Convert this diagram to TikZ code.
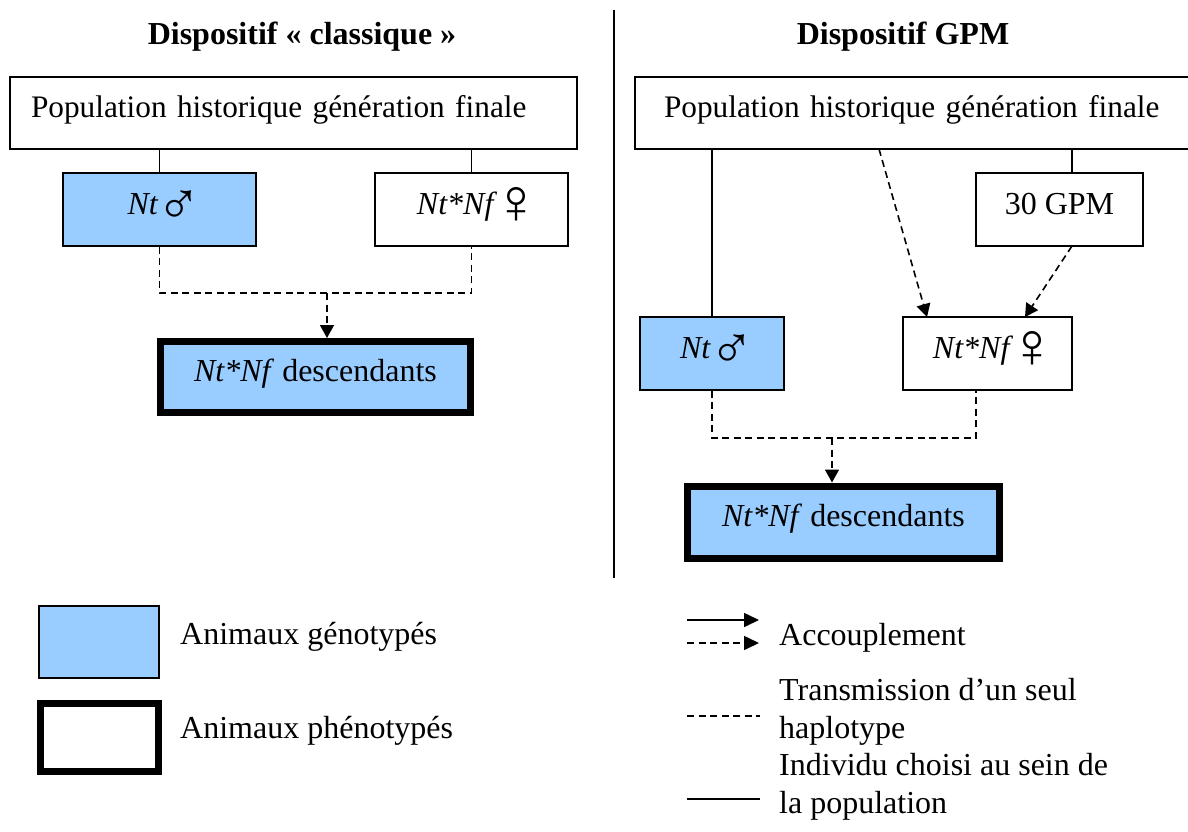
\documentclass[tikz,border=0pt]{standalone}
\usepackage{fontspec}
\setmainfont{Liberation Serif}
\newcommand\mymale{\hspace{9pt}\makebox[24pt]{\raisebox{-10pt}{\fontsize{60}{60}\selectfont ♂}}}
\newcommand\myfemale{\hspace{9pt}\makebox[20pt]{\raisebox{-9.5pt}{\fontsize{64}{64}\selectfont ♀}}}
\usetikzlibrary{arrows.meta}
\definecolor{genoblue}{HTML}{99CCFF}
\begin{document}
\begin{tikzpicture}[x=1pt,y=-1pt,
  every node/.style={font=\fontsize{32}{38}\selectfont, inner sep=0pt},
  titletext/.style={font=\fontsize{32}{38}\selectfont\bfseries, anchor=base},
  box/.style={draw, line width=1.5pt, text height=16pt, text depth=7pt},
  poptext/.style={font=\fontsize{31.3}{38}\selectfont, text width=525pt, align=left},
  geno/.style={fill=genoblue},
  pheno/.style={line width=7pt},
  solidlink/.style={line width=1.6pt},
  dashlink/.style={line width=1.6pt, dash pattern=on 7pt off 4.5pt},
  arr/.style={-{Triangle[length=13pt,width=14pt]}},
  legarr/.style={-{Triangle[length=15pt,width=14pt]}},
  legtext/.style={anchor=base west, align=left}]
\useasboundingbox (0,0) rectangle (1188,832);

% titles and divider
\node[titletext] (titleL) at (302,45) {Dispositif « classique »};
\node[titletext] (titleR) at (903,45) {Dispositif GPM};
\coordinate (divTop) at (614,10);
\coordinate (divBot) at (614,578);
\draw[solidlink] (divTop) -- (divBot);

% left design
\node[box, poptext, minimum width=567pt, minimum height=72pt] (popL) at (293.5,113) {Population historique génération finale};
\node[box, geno, minimum width=193pt, minimum height=73pt] (NtL) at (159.5,209.5) {\textit{Nt}\mymale};
\node[box, minimum width=193pt, minimum height=73pt] (NfL) at (471.5,209.5) {\textit{Nt*Nf}\myfemale};
\node[box, geno, pheno, minimum width=310pt, minimum height=71pt] (descL) at (315.5,377) {\textit{Nt*Nf} descendants};

\draw[solidlink] (NtL.north |- popL.south) -- (NtL.north);
\draw[solidlink] (NfL.north |- popL.south) -- (NfL.north);
\coordinate (jL) at (327,293);
\draw[dashlink] (NtL.south) -- (NtL.south |- jL) -- (NfL.south |- jL) -- (NfL.south);
\draw[dashlink, arr] (jL) -- (jL |- descL.north);

% right design
\node[box, poptext, minimum width=583pt, minimum height=72pt] (popR) at (926.5,113) {Population historique génération finale};
\node[box, minimum width=167pt, minimum height=73pt] (gpm) at (1059.5,209.5) {30 GPM};
\node[box, geno, minimum width=144pt, minimum height=73pt] (NtR) at (712,353.5) {\textit{Nt}\mymale};
\node[box, minimum width=169pt, minimum height=73pt] (NfR) at (987.5,353.5) {\textit{Nt*Nf}\myfemale};
\node[box, geno, pheno, minimum width=312pt, minimum height=72pt] (descR) at (843.5,522) {\textit{Nt*Nf} descendants};

\coordinate (gpmTop) at (1072,173);
\draw[solidlink] (gpmTop |- popR.south) -- (gpmTop);
\draw[solidlink] (NtR.north |- popR.south) -- (NtR.north);
\coordinate (popOut) at (879,149);
\coordinate (fIn1) at (927,317);
\coordinate (gpmOut) at (1072,246);
\coordinate (fIn2) at (1025,317);
\draw[dashlink, arr] (popOut) -- (fIn1);
\draw[dashlink, arr] (gpmOut) -- (fIn2);
\coordinate (fOut) at (976,390);
\coordinate (jR) at (832,438);
\draw[dashlink] (NtR.south) -- (NtR.south |- jR) -- (fOut |- jR) -- (fOut);
\draw[dashlink, arr] (jR) -- (jR |- descR.north);

% legend: boxes
\node[box, geno, minimum width=120pt, minimum height=72pt] (legG) at (99,642) {};
\node[legtext] (legGt) at (180,644) {Animaux génotypés};
\node[box, pheno, minimum width=118pt, minimum height=68pt] (legP) at (99.5,737.5) {};
\node[legtext] (legPt) at (180,738) {Animaux phénotypés};

% legend: lines
\coordinate (la1) at (687,620);
\coordinate (la2) at (759,620);
\coordinate (lb1) at (687,643);
\coordinate (lb2) at (759,643);
\coordinate (lc1) at (687,716);
\coordinate (lc2) at (760,716);
\coordinate (ld1) at (687,799);
\coordinate (ld2) at (760,799);
\draw[solidlink, legarr] (la1) -- (la2);
\draw[dashlink, legarr] (lb1) -- (lb2);
\draw[dashlink] (lc1) -- (lc2);
\draw[solidlink] (ld1) -- (ld2);
\node[legtext] (legAt) at (779,645) {Accouplement};
\node[legtext] (legTt) at (779,738) {Transmission d’un seul\\haplotype};
\node[legtext] (legIt) at (779,813) {Individu choisi au sein de\\la population};
\end{tikzpicture}
\end{document}
